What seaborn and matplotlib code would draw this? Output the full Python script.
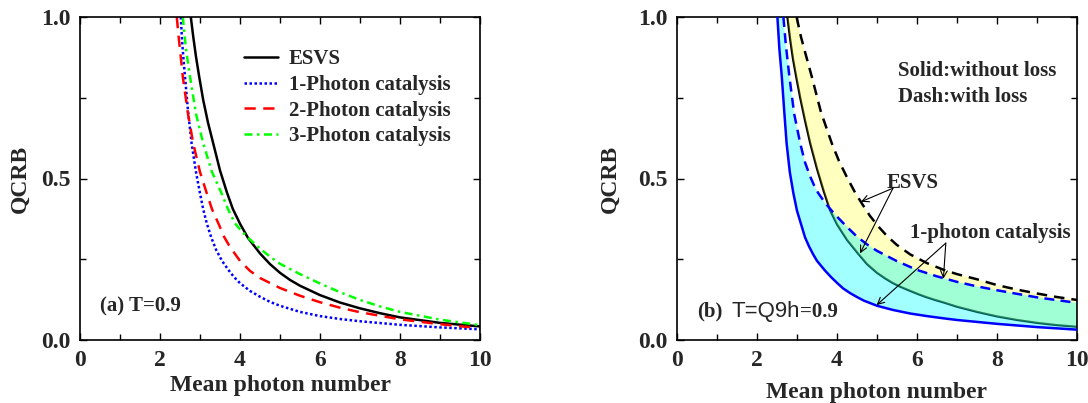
import numpy as np
import pandas as pd
import matplotlib
matplotlib.use("Agg")
import matplotlib.pyplot as plt
import seaborn as sns

# ---------------- data ----------------
# Panel (a)
esvs_x = [2.77, 2.83, 2.9, 2.98, 3.08, 3.2, 3.33, 3.5, 3.67, 3.82, 4.0, 4.2, 4.5, 4.75, 5.0, 5.25, 5.5, 6.0, 6.5, 7.0, 7.5, 8.0, 9.0, 10.0]
esvs_y = [1.0, 0.94, 0.877, 0.815, 0.743, 0.673, 0.609, 0.525, 0.458, 0.406, 0.36, 0.316, 0.268, 0.235, 0.208, 0.186, 0.168, 0.139, 0.116, 0.098, 0.083, 0.070, 0.053, 0.042]

p1_x = [2.52, 2.55, 2.59, 2.625, 2.7, 2.79, 2.9, 3.0, 3.08, 3.17, 3.28, 3.4, 3.55, 3.71, 3.85, 4.0, 4.25, 4.5, 4.75, 5.0, 5.5, 6.0, 6.5, 7.0, 8.0, 9.0, 10.0]
p1_y = [1.0, 0.93, 0.865, 0.815, 0.71, 0.609, 0.52, 0.454, 0.405, 0.361, 0.318, 0.28, 0.245, 0.217, 0.195, 0.176, 0.152, 0.134, 0.118, 0.106, 0.087, 0.074, 0.065, 0.058, 0.047, 0.039, 0.033]

p2_x = [2.42, 2.46, 2.5, 2.57, 2.7, 2.83, 3.0, 3.17, 3.3, 3.46, 3.6, 3.75, 4.0, 4.25, 4.5, 5.0, 5.5, 6.0, 6.5, 7.0, 8.0, 9.0, 9.8]
p2_y = [1.0, 0.945, 0.90, 0.815, 0.70, 0.609, 0.52, 0.454, 0.405, 0.361, 0.32, 0.288, 0.245, 0.214, 0.192, 0.161, 0.137, 0.117, 0.100, 0.086, 0.064, 0.049, 0.039]

p3_x = [2.57, 2.61, 2.65, 2.75, 2.9, 3.08, 3.3, 3.54, 3.7, 3.875, 4.0, 4.17, 4.5, 4.75, 5.0, 5.5, 6.0, 6.5, 7.0, 7.5, 8.0, 9.0, 10.0]
p3_y = [1.0, 0.95, 0.90, 0.815, 0.70, 0.609, 0.52, 0.454, 0.405, 0.361, 0.343, 0.32, 0.283, 0.258, 0.236, 0.204, 0.175, 0.148, 0.124, 0.104, 0.087, 0.063, 0.046]

legend_labels = ["ESVS", "1-Photon catalysis", "2-Photon catalysis", "3-Photon catalysis"]

# Panel (b)
rs_x = [2.76, 2.83, 2.9, 2.98, 3.08, 3.2, 3.33, 3.5, 3.67, 3.825, 4.0, 4.25, 4.53, 4.75, 5.0, 5.2, 5.4, 5.6, 5.83, 6.05, 6.25, 6.45, 6.67, 7.0, 7.5, 8.0, 8.5, 9.0, 9.5, 10.0]
rs_y = [1.0, 0.93, 0.87, 0.815, 0.75, 0.68, 0.609, 0.53, 0.46, 0.402, 0.358, 0.31, 0.267, 0.235, 0.208, 0.191, 0.176, 0.164, 0.152, 0.141, 0.132, 0.124, 0.116, 0.103, 0.087, 0.073, 0.062, 0.053, 0.046, 0.041]

rd_x = [2.99, 3.1, 3.22, 3.37, 3.6, 3.87, 4.05, 4.24, 4.45, 4.62, 4.82, 5.03, 5.25, 5.49, 5.83, 6.25, 6.67, 7.0, 7.5, 8.0, 8.5, 9.0, 9.5, 10.0]
rd_y = [1.0, 0.938, 0.883, 0.815, 0.705, 0.609, 0.554, 0.506, 0.457, 0.423, 0.385, 0.352, 0.322, 0.295, 0.265, 0.238, 0.217, 0.204, 0.188, 0.170, 0.156, 0.144, 0.133, 0.124]

bs_x = [2.51, 2.56, 2.62, 2.68, 2.74, 2.82, 2.91, 3.0, 3.12, 3.2, 3.3, 3.4, 3.5, 3.6, 3.7, 3.85, 4.0, 4.15, 4.33, 4.5, 4.67, 5.0, 5.4, 5.83, 6.25, 6.67, 7.0, 7.5, 8.0, 9.0, 10.0]
bs_y = [1.0, 0.90, 0.815, 0.71, 0.609, 0.52, 0.454, 0.40, 0.351, 0.318, 0.29, 0.266, 0.245, 0.23, 0.215, 0.195, 0.177, 0.16, 0.145, 0.133, 0.122, 0.106, 0.093, 0.082, 0.074, 0.067, 0.062, 0.056, 0.050, 0.040, 0.032]

bd_x = [2.66, 2.72, 2.81, 2.93, 3.08, 3.2, 3.33, 3.43, 3.53, 3.7, 3.87, 4.0, 4.25, 4.5, 4.75, 5.0, 5.5, 6.0, 6.5, 7.0, 7.5, 8.0, 9.0, 10.0]
bd_y = [1.0, 0.915, 0.815, 0.70, 0.609, 0.55, 0.506, 0.478, 0.455, 0.425, 0.40, 0.382, 0.35, 0.32, 0.296, 0.276, 0.244, 0.217, 0.197, 0.18, 0.166, 0.154, 0.132, 0.115]

x_ticks = [0, 2, 4, 6, 8, 10]
y_ticks = [0.0, 0.5, 1.0]

# ---------------- style ----------------
sns.set_theme(style="ticks")
plt.rcParams["font.family"] = ["Liberation Serif", "DejaVu Serif"]
plt.rcParams["font.weight"] = "bold"
plt.rcParams["axes.labelweight"] = "bold"

fig = plt.figure(figsize=(10.88, 4.03), dpi=100)
axA = fig.add_axes([80 / 1088, 63 / 403, 400 / 1088, 323 / 403])
axB = fig.add_axes([677 / 1088, 63 / 403, 400 / 1088, 323 / 403])


def style_axes(ax, ylab_x, xlab_y):
    ax.set_xlim(0, 10)
    ax.set_ylim(0, 1)
    ax.set_xticks(x_ticks)
    ax.set_xticklabels([str(t) for t in x_ticks])
    ax.set_yticks(y_ticks)
    ax.set_yticklabels([f"{t:.1f}" for t in y_ticks])
    ax.set_xticks([1, 3, 5, 7, 9], minor=True)
    ax.set_yticks([0.25, 0.75], minor=True)
    ax.tick_params(which="both", direction="in", top=True, right=True,
                   width=1.0, color="black")
    ax.tick_params(which="major", length=5, labelsize=17, pad=7)
    ax.tick_params(which="minor", length=4)
    for lab in ax.get_xticklabels() + ax.get_yticklabels():
        lab.set_fontweight("bold")
    for sp in ax.spines.values():
        sp.set_linewidth(1.2)
        sp.set_color("black")
        sp.set_visible(True)
    ax.set_xlabel("Mean photon number", fontsize=17, fontweight="bold", va="center")
    ax.set_ylabel("QCRB", fontsize=17, fontweight="bold", va="center")
    ax.xaxis.set_label_coords(0.5, xlab_y)
    ax.yaxis.set_label_coords(ylab_x, 0.5)


# ---------------- panel (a) ----------------
sns.lineplot(x=esvs_x, y=esvs_y, ax=axA, color="black", linewidth=1.8,
             label=legend_labels[0])
sns.lineplot(x=p1_x, y=p1_y, ax=axA, color="#0000FF", linewidth=1.8,
             linestyle=(0, (1, 1)), label=legend_labels[1])
sns.lineplot(x=p2_x, y=p2_y, ax=axA, color="#FF0000", linewidth=1.8,
             linestyle=(0, (4.5, 3)), label=legend_labels[2])
sns.lineplot(x=p3_x, y=p3_y, ax=axA, color="#00FF00", linewidth=1.8,
             linestyle=(0, (3.2, 1.8, 1, 1.8)), label=legend_labels[3])
style_axes(axA, -0.15, -0.142)
leg = axA.legend(loc="upper left", bbox_to_anchor=(0.41, 0.90), frameon=False,
                 fontsize=15, handlelength=1.65, handletextpad=0.5,
                 labelspacing=0.27, borderpad=0, borderaxespad=0)
for t in leg.get_texts():
    t.set_fontweight("bold")
axA.text(0.5, 0.087, "(a) T=0.9", fontsize=15, fontweight="bold", va="baseline")

# ---------------- panel (b) ----------------
sns.lineplot(x=rs_x, y=rs_y, ax=axB, color="black", linewidth=1.6, zorder=1.5)
axB.fill(list(rs_x) + list(rd_x)[::-1], list(rs_y) + list(rd_y)[::-1],
         color="#FFFF00", alpha=0.25, linewidth=0, zorder=2)
axB.fill(list(bs_x) + list(bd_x)[::-1], list(bs_y) + list(bd_y)[::-1],
         color="#00FFFF", alpha=0.37, linewidth=0, zorder=2.1)
sns.lineplot(x=bs_x, y=bs_y, ax=axB, color="#0000FF", linewidth=1.8, zorder=3)
sns.lineplot(x=bd_x, y=bd_y, ax=axB, color="#0000FF", linewidth=1.8,
             linestyle=(0, (4, 2.5)), zorder=3)
sns.lineplot(x=rd_x, y=rd_y, ax=axB, color="black", linewidth=1.8,
             linestyle=(0, (4.2, 2.8)), zorder=3)
style_axes(axB, -0.1675, -0.161)
if axB.get_legend() is not None:
    axB.get_legend().remove()

axB.text(5.52, 0.817, "Solid:without loss", fontsize=15, fontweight="bold", va="baseline")
axB.text(5.52, 0.738, "Dash:with loss", fontsize=15, fontweight="bold", va="baseline")
axB.text(5.25, 0.47, "ESVS", fontsize=15, fontweight="bold", va="baseline")
axB.text(5.82, 0.315, "1-photon catalysis", fontsize=15, fontweight="bold", va="baseline")
arrow = dict(arrowstyle="->", color="black", lw=0.8, shrinkA=0, shrinkB=0)
axB.annotate("", xy=(4.6, 0.428), xytext=(5.4, 0.47), arrowprops=arrow, zorder=4)
axB.annotate("", xy=(4.575, 0.268), xytext=(5.4, 0.47), arrowprops=arrow, zorder=4)
axB.annotate("", xy=(6.66, 0.19), xytext=(6.72, 0.30), arrowprops=arrow, zorder=4)
axB.annotate("", xy=(4.99, 0.108), xytext=(6.72, 0.30), arrowprops=arrow, zorder=4)
axB.text(0.5, 0.072, "(b)", fontsize=15, fontweight="bold", va="baseline")
axB.text(1.375, 0.072, "T=Q9h", fontsize=16, fontweight="normal",
         family=["Liberation Sans", "DejaVu Sans"], va="baseline")
axB.text(3.075, 0.072, "=0.9", fontsize=15, fontweight="bold", va="baseline")

fig.savefig("out.png", dpi=100)
